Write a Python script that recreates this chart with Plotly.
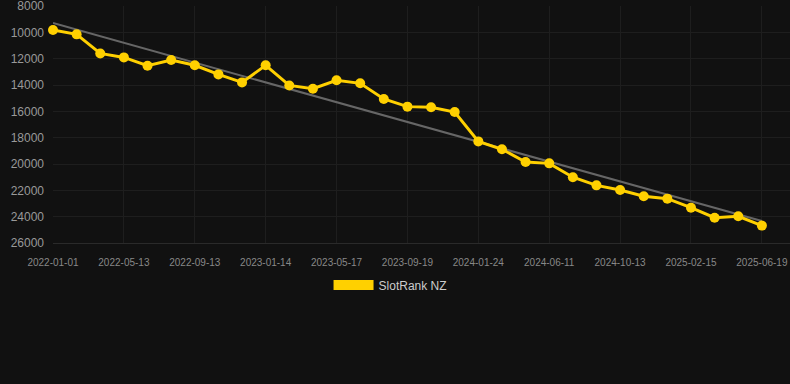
import numpy as np
import plotly.graph_objects as go

dates = [
    "2022-01-01", "2022-02-14", "2022-03-29", "2022-05-13", "2022-06-23", "2022-08-03",
    "2022-09-13", "2022-10-24", "2022-12-04", "2023-01-14", "2023-02-24", "2023-04-06",
    "2023-05-17", "2023-06-27", "2023-08-08", "2023-09-19", "2023-10-31", "2023-12-12",
    "2024-01-24", "2024-03-09", "2024-04-25", "2024-06-11", "2024-07-22", "2024-09-01",
    "2024-10-13", "2024-11-23", "2025-01-04", "2025-02-15", "2025-03-28", "2025-05-08",
    "2025-06-19",
]
rank = [
    9820, 10150, 11600, 11900, 12530, 12100, 12500, 13190, 13800,
    12500, 14030, 14280, 13640, 13870, 15060, 15640, 15690, 16050,
    18280, 18880, 19850, 19950, 21000, 21620, 21970, 22450, 22630,
    23320, 24080, 23970, 24680,
]
series_name = "SlotRank NZ"
y_ticks = [8000, 10000, 12000, 14000, 16000, 18000, 20000, 22000, 24000, 26000]

idx = np.arange(len(dates))
slope, intercept = np.polyfit(idx, np.array(rank, dtype=float), 1)
trend = (slope * idx + intercept).tolist()

YELLOW = "#FFD000"
BG = "#111111"

fig = go.Figure()
fig.add_trace(go.Scatter(
    x=dates, y=trend, mode="lines",
    line=dict(color="#666666", width=2),
    showlegend=False, hoverinfo="skip",
))
fig.add_trace(go.Scatter(
    x=dates, y=rank, mode="lines+markers",
    line=dict(color=YELLOW, width=3),
    marker=dict(color=YELLOW, size=10),
    showlegend=False, name=series_name, cliponaxis=False,
))
fig.add_trace(go.Scatter(
    x=[None], y=[None], mode="lines",
    line=dict(color=YELLOW, width=11),
    name=series_name, showlegend=True,
))

fig.update_layout(
    width=790, height=384,
    paper_bgcolor=BG, plot_bgcolor=BG,
    margin=dict(l=53, r=0, t=6, b=141),
    font=dict(family="Liberation Sans, Arial, sans-serif", color="#999999"),
    showlegend=True,
    legend=dict(
        orientation="h", x=0.458, xanchor="center", y=-0.177, yanchor="middle",
        font=dict(size=12, color="#cccccc"), itemwidth=40,
        bgcolor="rgba(0,0,0,0)",
    ),
    xaxis=dict(
        type="category",
        categoryorder="array", categoryarray=dates,
        range=[0, 31.19],
        tickmode="array",
        tickvals=dates[::3], ticktext=dates[::3],
        tickfont=dict(size=10, color="#888888"),
        showgrid=True, gridcolor="#1e1e1e", gridwidth=1,
        zeroline=False, showline=True, linecolor="#2a2a2a", ticks="",
        ticklabelstandoff=10,
    ),
    yaxis=dict(
        range=[26000, 7995],
        tickmode="array", tickvals=y_ticks, tickformat="d",
        tickfont=dict(size=12, color="#999999"),
        showgrid=True, gridcolor="#1e1e1e", gridwidth=1,
        zeroline=False, showline=False, ticks="",
        ticklabelstandoff=8, ticklabeloverflow="allow",
    ),
)

fig.write_html(
    "out.html",
    config={"displayModeBar": False},
    post_script="document.body.style.margin='0';document.body.style.background='#111111';",
)
